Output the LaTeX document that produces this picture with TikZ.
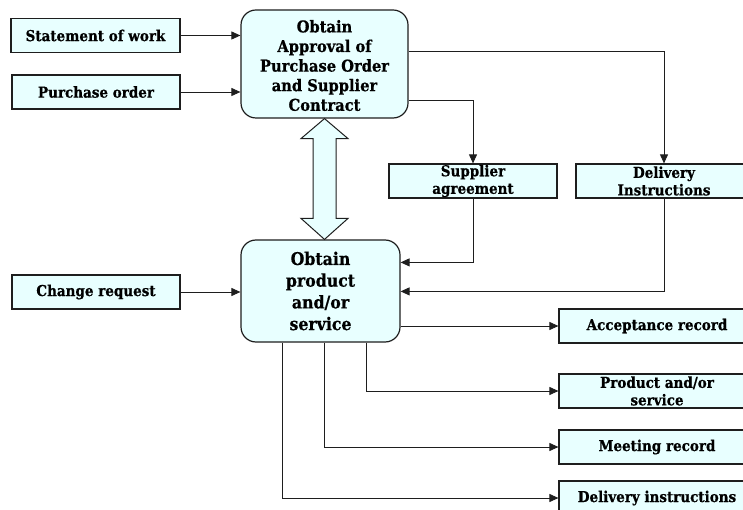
\documentclass[tikz,border=0pt]{standalone}
\usepackage{fontspec}
\setmainfont{DejaVu Serif}[FakeStretch=0.9, BoldFont={DejaVu Serif Bold},
  BoldFeatures={FakeBold=0.6}]
\usetikzlibrary{arrows.meta,calc}

\definecolor{boxfill}{RGB}{232,255,255}
\definecolor{edge}{RGB}{30,30,30}

\tikzset{
  base/.style={draw=edge, fill=boxfill, line width=1.2pt, inner sep=0pt,
               align=center, font=\bfseries},
  smallbox/.style={base, minimum height=34pt,
                   font=\bfseries\fontsize{15}{17.5}\selectfont},
  procbox/.style={base, rounded corners=15pt},
  conn/.style={draw=edge, line width=0.9pt,
               -{Triangle[length=9pt,width=8pt]}},
}

\begin{document}
\begin{tikzpicture}[x=1pt, y=-1pt]
  \useasboundingbox (0,0) rectangle (743,510);

  % process boxes (the five-line label sits slightly low in its box)
  \node[procbox, minimum width=167pt, minimum height=108pt,
        font=\bfseries\fontsize{16.3}{19.6}\selectfont] (approve) at (324.5,64)
    {\raisebox{-8pt}[0pt][0pt]{\begin{tabular}{@{}c@{}}Obtain\\Approval of\\Purchase Order\\and Supplier\\Contract\end{tabular}}};
  \node[procbox, minimum width=159pt, minimum height=102pt,
        font=\bfseries\fontsize{17.5}{21.7}\selectfont] (obtain) at (320.5,291)
    {Obtain\\product\\and/or\\service};

  % inputs on the left
  \node[smallbox, minimum width=169pt] (sow) at (95.5,35.5) {Statement of work};
  \node[smallbox, minimum width=168pt] (po)  at (96,92)    {Purchase order};
  \node[smallbox, minimum width=168pt] (cr)  at (96,292)   {Change request};

  % intermediate outputs
  \node[smallbox, minimum width=168pt] (sa) at (473,181) {Supplier\\agreement};
  \node[smallbox, minimum width=176pt] (di) at (664,181) {Delivery\\Instructions};

  % final outputs
  \node[smallbox, minimum width=196pt] (acc)  at (657,326) {Acceptance record};
  \node[smallbox, minimum width=196pt] (prod) at (657,391) {Product and/or\\service};
  \node[smallbox, minimum width=196pt] (meet) at (657,447) {Meeting record};
  \node[smallbox, minimum width=196pt] (dlv)  at (657,498) {Delivery instructions};

  % two-way exchange between the process boxes
  \coordinate (tipA) at (approve.south);
  \coordinate (tipB) at (approve.south |- obtain.north);
  \draw[draw=edge, fill=boxfill, line width=1pt, line join=miter]
    (tipA) -- ++(23.5,20) -- ++(-12,0) -- ($(tipB)+(11.5,-21)$)
    -- ++(12,0) -- (tipB) -- ++(-23.5,-21) -- ++(12,0)
    -- ($(tipA)+(-11.5,20)$) -- ++(-12,0) -- cycle;

  % inputs
  \draw[conn] (sow.east) -- (sow.east -| approve.west);
  \draw[conn] (po.east)  -- (po.east -| approve.west);
  \draw[conn] (cr.east)  -- (cr.east -| obtain.west);

  % approval outputs
  \coordinate (outDI) at ($(approve.north east)+(0,42)$);
  \coordinate (outSA) at ($(approve.north east)+(0,91)$);
  \draw[conn] (outDI) -- (outDI -| di.north) -- (di.north);
  \draw[conn] (outSA) -- (outSA -| sa.north) -- (sa.north);

  % feeds into the second process
  \draw[conn] (sa.south) |- ($(obtain.north east)+(0,23)$);
  \draw[conn] (di.south) |- ($(obtain.north east)+(0,52)$);

  % outputs of the second process
  \draw[conn] (acc.west -| obtain.east) -- (acc.west);
  \draw[conn] ($(obtain.south)+(45.5,0)$) |- (prod.west);
  \draw[conn] ($(obtain.south)+(3.5,0)$)  |- (meet.west);
  \draw[conn] ($(obtain.south)+(-38.5,0)$) |- (dlv.west);
\end{tikzpicture}
\end{document}
